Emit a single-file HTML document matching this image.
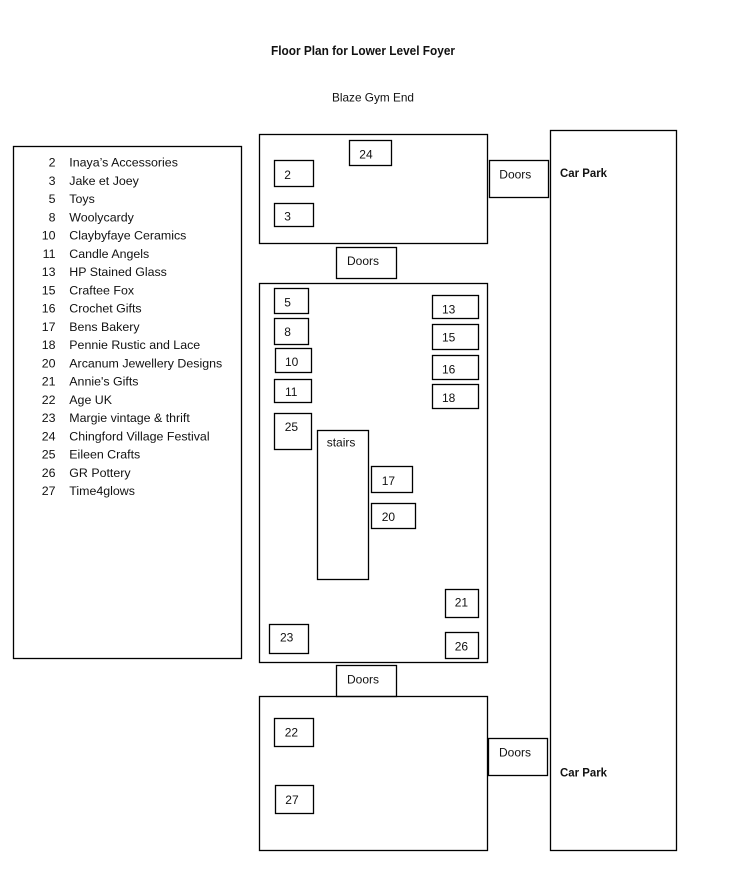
<!DOCTYPE html>
<html>
<head>
<meta charset="utf-8">
<style>
  html,body{margin:0;padding:0;background:#fff;}
  svg{display:block;}
  text{font-family:"Liberation Sans",Arial,sans-serif;fill:#111;}
</style>
</head>
<body>
<svg width="737" height="889" viewBox="0 0 737 889" xmlns="http://www.w3.org/2000/svg">
  <rect x="0" y="0" width="737" height="889" fill="#fff"/>
  <g fill="none" stroke="#000" stroke-width="1.3">
    <rect x="13.5" y="146.5" width="228" height="512"/>
    <rect x="259.5" y="134.5" width="228" height="109"/>
    <rect x="349.5" y="140.5" width="42" height="25"/>
    <rect x="274.5" y="160.5" width="39" height="26"/>
    <rect x="274.5" y="203.5" width="39" height="23"/>
    <rect x="489.5" y="160.5" width="59" height="37"/>
    <rect x="550.5" y="130.5" width="126" height="720"/>
    <rect x="336.5" y="247.5" width="60" height="31"/>
    <rect x="259.5" y="283.5" width="228" height="379"/>
    <rect x="274.5" y="288.5" width="34" height="25"/>
    <rect x="274.5" y="318.5" width="34" height="26"/>
    <rect x="275.5" y="348.5" width="36" height="24"/>
    <rect x="274.5" y="379.5" width="37" height="23"/>
    <rect x="274.5" y="413.5" width="37" height="36"/>
    <rect x="317.5" y="430.5" width="51" height="149"/>
    <rect x="371.5" y="466.5" width="41" height="26"/>
    <rect x="371.5" y="503.5" width="44" height="25"/>
    <rect x="432.5" y="295.5" width="46" height="23"/>
    <rect x="432.5" y="324.5" width="46" height="25"/>
    <rect x="432.5" y="355.5" width="46" height="24"/>
    <rect x="432.5" y="384.5" width="46" height="24"/>
    <rect x="445.5" y="589.5" width="33" height="28"/>
    <rect x="445.5" y="632.5" width="33" height="26"/>
    <rect x="269.5" y="624.5" width="39" height="29"/>
    <rect x="336.5" y="665.5" width="60" height="31"/>
    <rect x="259.5" y="696.5" width="228" height="154"/>
    <rect x="274.5" y="718.5" width="39" height="28"/>
    <rect x="275.5" y="785.5" width="38" height="28"/>
    <rect x="488.5" y="738.5" width="59" height="37"/>
  </g>

  <!-- Titles -->
  <text x="271" y="55" font-size="12.5" font-weight="bold" textLength="184" lengthAdjust="spacingAndGlyphs">Floor Plan for Lower Level Foyer</text>
  <text x="332" y="101.7" font-size="12" textLength="82" lengthAdjust="spacingAndGlyphs">Blaze Gym End</text>

  <!-- List -->
  <g font-size="12.4">
    <g text-anchor="end">
      <text x="55.5" y="166.7">2</text>
      <text x="55.5" y="184.9">3</text>
      <text x="55.5" y="203.2">5</text>
      <text x="55.5" y="221.4">8</text>
      <text x="55.5" y="239.7">10</text>
      <text x="55.5" y="257.9">11</text>
      <text x="55.5" y="276.1">13</text>
      <text x="55.5" y="294.4">15</text>
      <text x="55.5" y="312.6">16</text>
      <text x="55.5" y="330.9">17</text>
      <text x="55.5" y="349.1">18</text>
      <text x="55.5" y="367.3">20</text>
      <text x="55.5" y="385.6">21</text>
      <text x="55.5" y="403.8">22</text>
      <text x="55.5" y="422.1">23</text>
      <text x="55.5" y="440.3">24</text>
      <text x="55.5" y="458.5">25</text>
      <text x="55.5" y="476.8">26</text>
      <text x="55.5" y="495">27</text>
    </g>
    <text x="69.3" y="166.7">Inaya’s Accessories</text>
    <text x="69.3" y="184.9">Jake et Joey</text>
    <text x="69.3" y="203.2">Toys</text>
    <text x="69.3" y="221.4">Woolycardy</text>
    <text x="69.3" y="239.7">Claybyfaye Ceramics</text>
    <text x="69.3" y="257.9">Candle Angels</text>
    <text x="69.3" y="276.1">HP Stained Glass</text>
    <text x="69.3" y="294.4">Craftee Fox</text>
    <text x="69.3" y="312.6">Crochet Gifts</text>
    <text x="69.3" y="330.9">Bens Bakery</text>
    <text x="69.3" y="349.1">Pennie Rustic and Lace</text>
    <text x="69.3" y="367.3">Arcanum Jewellery Designs</text>
    <text x="69.3" y="385.6">Annie's Gifts</text>
    <text x="69.3" y="403.8">Age UK</text>
    <text x="69.3" y="422.1">Margie vintage &amp; thrift</text>
    <text x="69.3" y="440.3">Chingford Village Festival</text>
    <text x="69.3" y="458.5">Eileen Crafts</text>
    <text x="69.3" y="476.8">GR Pottery</text>
    <text x="69.3" y="495">Time4glows</text>
  </g>

  <!-- Box labels -->
  <g font-size="12">
    <text x="359.3" y="158.3">24</text>
    <text x="284.3" y="179">2</text>
    <text x="284.3" y="220.7">3</text>
    <text x="499.3" y="178.3">Doors</text>
    <text x="347" y="265">Doors</text>
    <text x="284.3" y="306.7">5</text>
    <text x="284.3" y="336">8</text>
    <text x="285" y="366">10</text>
    <text x="285" y="396">11</text>
    <text x="284.7" y="431">25</text>
    <text x="326.7" y="446.7">stairs</text>
    <text x="442" y="313.3">13</text>
    <text x="442" y="341.7">15</text>
    <text x="442" y="373.3">16</text>
    <text x="442" y="402">18</text>
    <text x="381.7" y="485">17</text>
    <text x="381.7" y="521">20</text>
    <text x="454.7" y="606.7">21</text>
    <text x="454.7" y="650.7">26</text>
    <text x="280" y="641.7">23</text>
    <text x="347" y="683.3">Doors</text>
    <text x="284.7" y="736.7">22</text>
    <text x="285.3" y="804">27</text>
    <text x="499" y="756.7">Doors</text>
  </g>
  <text x="560" y="177" font-size="12" font-weight="bold" textLength="47" lengthAdjust="spacingAndGlyphs">Car Park</text>
  <text x="560" y="776.7" font-size="12" font-weight="bold" textLength="47" lengthAdjust="spacingAndGlyphs">Car Park</text>
</svg>
</body>
</html>
